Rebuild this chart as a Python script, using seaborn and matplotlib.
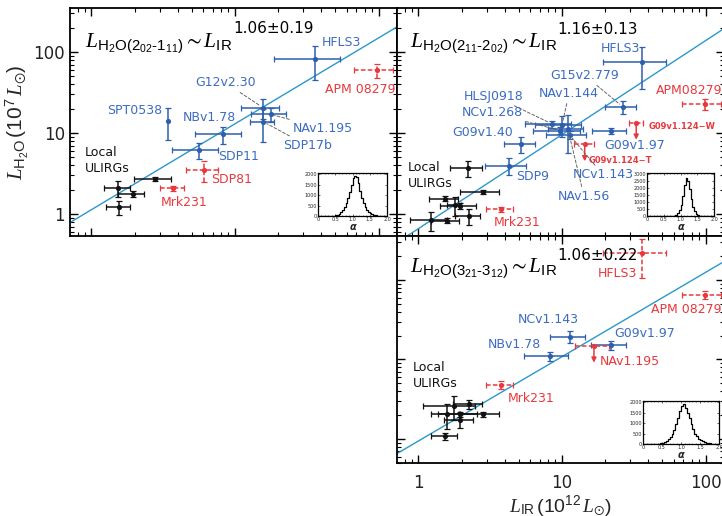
import numpy as np
import pandas as pd
import matplotlib
matplotlib.use("Agg")
import matplotlib.pyplot as plt
from matplotlib.ticker import FuncFormatter, NullFormatter, MultipleLocator
import seaborn as sns

# ---------------------------------------------------------------- data
# Panel 1 : H2O(2_02-1_11)   (L_IR in 1e12 Lsun, L_H2O in 1e7 Lsun)
p1_names = ["HFLS3", "APM 08279", "G12v2.30", "NAv1.195", "SDP17b",
            "NBv1.78", "SPT0538", "SDP11", "SDP81", "Mrk231"]
p1_kind = ["hz", "ref", "hz", "hz", "hz", "hz", "hz", "hz", "ref", "ref"]
p1_lir = [36.1, 97.0, 15.7, 17.7, 15.7, 8.2, 3.43, 5.64, 6.08, 3.70]
p1_lir_err = [17.5, 30.0, 4.7, 4.8, 2.9, 2.9, 0.0, 2.0, 1.5, 0.7]
p1_lh2o = [82.0, 60.0, 20.5, 17.0, 13.8, 9.7, 14.2, 6.2, 3.5, 2.08]
p1_lh2o_err = [37.0, 12.0, 5.5, 3.2, 6.0, 2.3, 6.0, 1.4, 1.0, 0.15]

u1_lir = [1.54, 1.94, 2.77, 1.56]
u1_lir_err = [0.31, 0.40, 0.80, 0.30]
u1_lh2o = [2.11, 1.77, 2.70, 1.21]
u1_lh2o_err = [0.48, 0.15, 0.15, 0.23]

# Panel 2 : H2O(2_11-2_02)
p2_names = ["HFLS3", "APM08279", "G15v2.779", "G09v1.97", "G09v1.124\u2212W",
            "G09v1.124\u2212T", "HLSJ0918", "NCv1.268", "NAv1.144", "NCv1.143",
            "NAv1.56", "G09v1.40", "SDP9", "Mrk231"]
p2_kind = ["hz", "ref", "hz", "hz", "lim", "lim", "hz", "hz", "hz", "hz",
           "hz", "hz", "hz", "ref"]
p2_lir = [36.2, 98.9, 26.5, 22.1, 32.9, 14.4, 8.55, 9.76, 10.0, 11.3,
          11.0, 5.22, 4.26, 3.75]
p2_lir_err = [17.0, 30.0, 6.5, 6.0, 3.5, 2.2, 3.0, 3.5, 3.5, 3.5,
              3.0, 1.3, 1.35, 0.8]
p2_lh2o = [74.6, 22.6, 21.1, 10.6, 13.4, 7.25, 12.9, 10.7, 12.6, 9.45,
           11.1, 7.31, 3.95, 1.14]
p2_lh2o_err = [40.0, 3.4, 4.0, 1.0, 0.0, 0.0, 1.3, 1.0, 3.8, 1.0,
               5.5, 1.6, 0.9, 0.08]

u2_lir = [2.22, 2.81, 1.54, 1.96, 1.79, 2.24, 1.23, 1.58]
u2_lir_err = [0.55, 0.85, 0.35, 0.55, 0.20, 0.45, 0.35, 0.35]
u2_lh2o = [3.67, 1.88, 1.55, 1.26, 1.29, 0.945, 0.843, 0.83]
u2_lh2o_err = [0.80, 0.12, 0.10, 0.10, 0.35, 0.22, 0.23, 0.05]

# Panel 3 : H2O(3_21-3_12)
p3_names = ["HFLS3", "APM 08279", "NCv1.143", "NBv1.78", "G09v1.97",
            "NAv1.195", "Mrk231"]
p3_kind = ["ref", "ref", "hz", "hz", "hz", "lim", "ref"]
p3_lir = [36.2, 98.9, 11.3, 8.22, 22.0, 16.7, 3.75]
p3_lir_err = [17.0, 30.0, 3.1, 2.8, 6.0, 4.4, 0.8]
p3_lh2o = [217.0, 64.7, 19.4, 11.07, 15.2, 14.9, 4.78]
p3_lh2o_err = [110.0, 7.5, 3.2, 1.5, 1.9, 0.0, 0.55]

u3_lir = [1.54, 1.57, 1.77, 2.25, 1.96, 1.96, 2.81]
u3_lir_err = [0.31, 0.35, 0.70, 0.50, 0.60, 0.45, 0.85]
u3_lh2o = [1.075, 2.04, 2.62, 2.73, 2.04, 1.73, 2.04]
u3_lh2o_err = [0.11, 0.70, 0.90, 0.33, 0.15, 0.35, 0.17]

# power-law fits  L_H2O = norm * L_IR ** slope
fit_norm = [1.13, 0.66, 0.944]
fit_slope = [1.06, 1.16, 1.06]
fit_text = ["1.06\u00b10.19", "1.16\u00b10.13", "1.06\u00b10.22"]
transitions = ["2_{02}\\text{-}1_{11}", "2_{11}\\text{-}2_{02}", "3_{21}\\text{-}3_{12}"]

# posterior histograms of alpha (counts per 0.05 bin, 0..2)
hist1 = [0] * 8 + [5, 15, 30, 60, 110, 180, 280, 420, 600, 850, 1150, 1500, 1800,
                   1920, 1850, 1550, 1200, 880, 620, 420, 280, 190, 120, 80, 50,
                   30, 20, 12, 8, 5, 3, 2]
hist2 = [0] * 15 + [10, 30, 80, 200, 420, 800, 1400, 2200, 2700, 2500, 1900,
                    1200, 650, 330, 150, 70, 30, 12, 5] + [0] * 6
hist3 = [0] * 7 + [5, 12, 25, 50, 90, 150, 230, 340, 480, 680, 950, 1250, 1550,
                   1800, 1900, 1700, 1500, 1250, 950, 700, 500, 360, 250, 170,
                   120, 80, 55, 38, 25, 16, 10, 6, 4]

# ---------------------------------------------------------------- style
sns.set_style("ticks")
plt.rcParams["font.family"] = ["DejaVu Sans"]
plt.rcParams["mathtext.fontset"] = "custom"
plt.rcParams["mathtext.rm"] = "Liberation Sans"
plt.rcParams["mathtext.it"] = "Liberation Serif:italic"
plt.rcParams["mathtext.bf"] = "Liberation Sans:bold"
plt.rcParams["mathtext.fallback"] = "stixsans"
plt.rcParams["axes.edgecolor"] = "black"

BLUE = "#2e5fae"
BLUE_TXT = "#3b6cc2"
RED = "#e8383d"
BLACK = "#111111"
FIT = "#2a98cc"
LEADER = "#666666"

W, H = 722, 516
fig = plt.figure(figsize=(W / 100, H / 100), dpi=100)


def px_axes(x0, y0, x1, y1):
    return fig.add_axes([x0 / W, 1 - y1 / H, (x1 - x0) / W, (y1 - y0) / H])


XLIM = (0.709, 134.5)
YLIM12 = (0.535, 349)
YLIM3 = (0.499, 357)

ax1 = px_axes(70, 8, 397, 236)
ax2 = px_axes(397, 8, 724, 236)
ax3 = px_axes(397, 236, 724, 463)


def style_axes(ax, ylim, left_labels, bottom_labels):
    ax.set_xscale("log")
    ax.set_yscale("log")
    ax.set_xlim(XLIM)
    ax.set_ylim(ylim)
    ax.set_autoscale_on(False)
    ax.tick_params(which="both", direction="in", top=True, right=True,
                   left=True, bottom=True, colors="black")
    ax.tick_params(which="major", length=6, width=1)
    ax.tick_params(which="minor", length=3, width=0.8)
    ax.tick_params(axis="x", labelbottom=bottom_labels, labelsize=12, pad=8,
                   labelcolor="#222222")
    ax.tick_params(axis="y", labelleft=left_labels, labelsize=12,
                   labelcolor="#222222")
    fmt = FuncFormatter(lambda v, _: f"{v:g}")
    ax.xaxis.set_major_formatter(fmt)
    ax.yaxis.set_major_formatter(fmt)
    ax.xaxis.set_minor_formatter(NullFormatter())
    ax.yaxis.set_minor_formatter(NullFormatter())
    for s in ax.spines.values():
        s.set_linewidth(1.3)
        s.set_color("black")


style_axes(ax1, YLIM12, True, False)
style_axes(ax2, YLIM12, False, False)
style_axes(ax3, YLIM3, False, True)


def draw_fit(ax, norm, slope):
    xs = np.logspace(np.log10(XLIM[0]), np.log10(XLIM[1]), 60)
    sns.lineplot(x=xs, y=norm * xs ** slope, ax=ax, color=FIT, linewidth=1.0,
                 errorbar=None, zorder=2, legend=False)


def draw_points(ax, xs, xe, ys, ye, color, dashed):
    for x, dx, y, dy in zip(xs, xe, ys, ye):
        eb = ax.errorbar([x], [y], xerr=[dx] if dx > 0 else None,
                         yerr=[dy] if dy > 0 else None, fmt="none",
                         ecolor=color, elinewidth=1.1, capsize=2,
                         capthick=0.9, zorder=3)
        if dashed:
            for c in eb[2]:
                c.set_linestyle((0, (3, 1.5)))
    sns.scatterplot(x=list(xs), y=list(ys), ax=ax, color=color, s=14,
                    linewidth=0, zorder=4, legend=False)


def draw_limit_arrows(ax, xs, ys, length_px):
    for x, y in zip(xs, ys):
        d = ax.transData.transform((x, y))
        x2, y2 = ax.transData.inverted().transform((d[0], d[1] - length_px))
        ax.annotate("", xy=(x, y2), xytext=(x, y),
                    arrowprops=dict(arrowstyle="-|>", color=RED, lw=1.1,
                                    mutation_scale=7, shrinkA=0, shrinkB=0),
                    zorder=4)


def draw_labels(ax, names, xs, ys, kinds, offsets):
    for n, x, y, k in zip(names, xs, ys, kinds):
        dx, dy, leader = offsets[n]
        col = BLUE_TXT if k == "hz" else RED
        kw = dict(fontsize=9, color=col)
        if n.startswith("G09v1.124"):
            kw.update(fontsize=6, fontweight="bold")
        ap = None
        if leader:
            ap = dict(arrowstyle="-", color=LEADER, lw=0.7,
                      linestyle=(0, (3, 2)), shrinkA=0, shrinkB=3)
        ax.annotate(n, xy=(x, y), xytext=(dx * 0.72, -dy * 0.72),
                    textcoords="offset points", ha="left", va="center",
                    arrowprops=ap, zorder=6, annotation_clip=False, **kw)


def draw_panel(ax, names, kinds, lir, lir_err, lh2o, lh2o_err,
               ulir, ulir_err, ulh2o, ulh2o_err, offsets, idx):
    draw_fit(ax, fit_norm[idx], fit_slope[idx])
    draw_points(ax, ulir, ulir_err, ulh2o, ulh2o_err, BLACK, False)
    for kind, col, dashed in (("hz", BLUE, False), ("ref", RED, True),
                              ("lim", RED, True)):
        sel = [i for i, k in enumerate(kinds) if k == kind]
        if not sel:
            continue
        draw_points(ax, [lir[i] for i in sel], [lir_err[i] for i in sel],
                    [lh2o[i] for i in sel], [lh2o_err[i] for i in sel],
                    col, dashed)
        if kind == "lim":
            draw_limit_arrows(ax, [lir[i] for i in sel],
                              [lh2o[i] for i in sel], 17)
    draw_labels(ax, names, lir, lh2o, kinds, offsets)


off1 = {"HFLS3": (7, -16, False), "APM 08279": (-52, 20, False),
        "G12v2.30": (-68, -25, True), "NAv1.195": (22, 14, True),
        "SDP17b": (20, 24, True), "NBv1.78": (-40, -17, False),
        "SPT0538": (-61, -10, False), "SDP11": (19, 7, False),
        "SDP81": (7, 10, False), "Mrk231": (-12, 14, False)}
off2 = {"HFLS3": (-41, -14, False), "APM08279": (-49, -14, False),
        "G15v2.779": (-72, -31, True), "G09v1.97": (-7, 15, False),
        "G09v1.124\u2212W": (12, 4, False), "G09v1.124\u2212T": (4, 16, False),
        "HLSJ0918": (-88, -28, True), "NCv1.268": (-99, -18, True),
        "NAv1.144": (-23, -31, True), "NCv1.143": (3, 40, True),
        "NAv1.56": (-10, 67, True), "G09v1.40": (-69, -12, False),
        "SDP9": (7, 11, False), "Mrk231": (-7, 13, False)}
off3 = {"HFLS3": (-44, 20, False), "APM 08279": (-54, 15, False),
        "NCv1.143": (-52, -17, False), "NBv1.78": (-62, -11, False),
        "G09v1.97": (3, -12, False), "NAv1.195": (6, 16, False),
        "Mrk231": (7, 14, False)}

draw_panel(ax1, p1_names, p1_kind, p1_lir, p1_lir_err, p1_lh2o, p1_lh2o_err,
           u1_lir, u1_lir_err, u1_lh2o, u1_lh2o_err, off1, 0)
draw_panel(ax2, p2_names, p2_kind, p2_lir, p2_lir_err, p2_lh2o, p2_lh2o_err,
           u2_lir, u2_lir_err, u2_lh2o, u2_lh2o_err, off2, 1)
draw_panel(ax3, p3_names, p3_kind, p3_lir, p3_lir_err, p3_lh2o, p3_lh2o_err,
           u3_lir, u3_lir_err, u3_lh2o, u3_lh2o_err, off3, 2)

# panel titles: (left px, baseline px) of the relation and of its exponent
title_pos = [((85, 47), (233, 33)), ((410, 47), (557, 34)),
             ((410, 272), (557, 260))]
for i, ((tx, ty), (ex, ey)) in enumerate(title_pos):
    s = (r"$L_{\mathrm{H_2O(" + transitions[i] + r")}}{\sim}L_{\mathrm{IR}}$")
    fig.text(tx / W, 1 - ty / H, s, fontsize=15.5, ha="left", va="baseline",
             color="black", zorder=7)
    fig.text(ex / W, 1 - ey / H, fit_text[i], fontsize=11, ha="left",
             va="baseline", color="black", zorder=7)

# "Local ULIRGs"
for ax, (tx, ty) in ((ax1, (0.046, 0.333)), (ax2, (0.034, 0.265)),
                     (ax3, (0.049, 0.385))):
    ax.text(tx, ty, "Local\nULIRGs", transform=ax.transAxes, fontsize=9,
            ha="left", va="center", linespacing=1.3, color=BLACK)

ax1.set_ylabel(r"$L_{\mathrm{H_2O}}\,(\mathrm{10^7}\,L_{\odot})$", fontsize=15,
               labelpad=2)
ax3.set_xlabel(r"$L_{\mathrm{IR}}\,(\mathrm{10^{12}}\,L_{\odot})$", fontsize=14,
               labelpad=1)
ax1.set_xlabel("")
ax2.set_xlabel("")
ax2.set_ylabel("")
ax3.set_ylabel("")

# insets with posterior histograms
ALPHA_EDGES = np.linspace(0, 2, 41)
ALPHA_CENTERS = ALPHA_EDGES[:-1] + 0.025


def add_inset(box, counts, ymax, ytop):
    ia = px_axes(*box)
    df = pd.DataFrame({"alpha": ALPHA_CENTERS, "count": counts})
    sns.histplot(data=df, x="alpha", weights="count", binwidth=0.05,
                 binrange=(0, 2), element="step", fill=False, color="black",
                 linewidth=0.9, ax=ia)
    ia.set_xlim(0, 2)
    ia.set_ylim(0, ymax)
    ia.set_xticks([0, 0.5, 1.0, 1.5, 2.0])
    ia.set_xticklabels(["0", "0.5", "1.0", "1.5", "2.0"])
    ia.set_yticks(np.arange(0, ytop + 1, 500))
    ia.tick_params(which="both", direction="in", length=1.5, width=0.5,
                   labelsize=3.5, pad=1, top=True, right=True)
    ia.xaxis.set_minor_locator(MultipleLocator(0.1))
    ia.tick_params(which="minor", length=0.8, width=0.4)
    ia.set_ylabel("")
    ia.set_xlabel("\u03b1", fontsize=7, fontweight="bold", fontstyle="italic",
                  labelpad=0)
    for s in ia.spines.values():
        s.set_linewidth(0.9)
        s.set_color("black")


add_inset((318, 173, 387, 216), hist1, 2050, 2000)
add_inset((647, 173, 714, 216), hist2, 3050, 3000)
add_inset((643, 401, 719, 444), hist3, 2050, 2000)

fig.savefig("out.png", dpi=100)
